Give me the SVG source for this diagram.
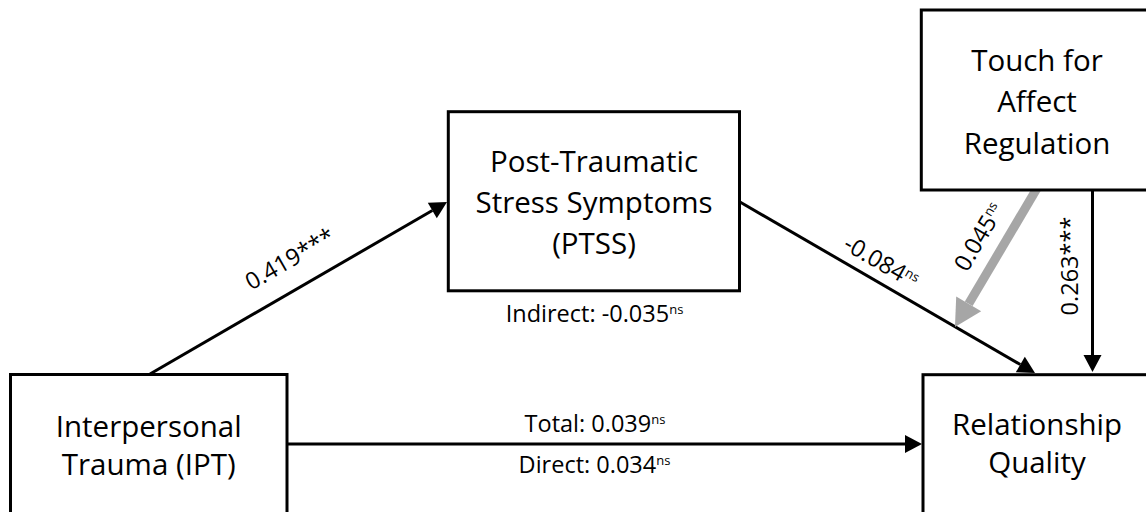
<svg xmlns="http://www.w3.org/2000/svg" width="1146" height="512" viewBox="0 0 1146 512">
<defs>
<style>
.box{fill:#ffffff;stroke:#000000;stroke-width:3}
.node{font-family:"Open Sans","Noto Sans",sans-serif;font-size:29.5px;fill:#000000;text-anchor:middle}
.lab{font-family:"Open Sans","Noto Sans",sans-serif;font-size:23.5px;fill:#000000;text-anchor:middle}
.sup{font-size:13px}
.ln{fill:none;stroke:#000000;stroke-width:3}
.gray{fill:none;stroke:#a6a6a6;stroke-width:9}
</style>
<marker id="ah" markerUnits="userSpaceOnUse" markerWidth="17" markerHeight="18" refX="0" refY="9" orient="auto" overflow="visible">
<path d="M0,0 L17,9 L0,18 z" fill="#000000"/>
</marker>
<marker id="ahg" markerUnits="userSpaceOnUse" markerWidth="27" markerHeight="29" refX="0" refY="14.5" orient="auto" overflow="visible">
<path d="M0,0 L27,14.5 L0,29 z" fill="#a6a6a6"/>
</marker>
</defs>
<rect x="0" y="0" width="1146" height="512" fill="#ffffff"/>
<g id="connectors">
<line class="ln" x1="150" y1="374" x2="432.3" y2="210.5" marker-end="url(#ah)"/>
<line class="ln" x1="740" y1="202" x2="1020.3" y2="364.5" marker-end="url(#ah)"/>
<line class="ln" x1="287" y1="444" x2="905" y2="444" marker-end="url(#ah)"/>
<line class="ln" x1="1092.5" y1="185" x2="1092.5" y2="355" marker-end="url(#ah)"/>
<line class="gray" x1="1041" y1="181.5" x2="968.7" y2="303.8" marker-end="url(#ahg)"/>
<text class="lab" transform="translate(294,266) rotate(-30)">0.419***</text>
<text class="lab" transform="translate(877,269) rotate(30)">-0.084<tspan class="sup" dy="-8">ns</tspan></text>
<text class="lab" transform="translate(986,241) rotate(-59.4)">0.045<tspan class="sup" dy="-8">ns</tspan></text>
<text class="lab" transform="translate(1077.5,266) rotate(-90)">0.263***</text>
<text class="lab" x="594.5" y="322">Indirect: -0.035<tspan class="sup" dy="-8">ns</tspan></text>
<text class="lab" x="595" y="432">Total: 0.039<tspan class="sup" dy="-8">ns</tspan></text>
<text class="lab" x="594.5" y="473">Direct: 0.034<tspan class="sup" dy="-8">ns</tspan></text>
</g>
<g id="node-ipt">
<rect class="box" x="10.5" y="374.5" width="276.5" height="150"/>
<text class="node" x="148.7" y="437">Interpersonal</text>
<text class="node" x="148.7" y="475">Trauma (IPT)</text>
</g>
<g id="node-ptss">
<rect class="box" x="448.3" y="111.7" width="291.2" height="179.1"/>
<text class="node" x="594" y="172">Post-Traumatic</text>
<text class="node" x="594" y="212.5">Stress Symptoms</text>
<text class="node" x="594" y="254">(PTSS)</text>
</g>
<g id="node-touch">
<rect class="box" x="921.3" y="10" width="240" height="180"/>
<text class="node" x="1037" y="70.5">Touch for</text>
<text class="node" x="1037" y="111.5">Affect</text>
<text class="node" x="1037" y="154">Regulation</text>
</g>
<g id="node-rq">
<rect class="box" x="923" y="374.7" width="240" height="150"/>
<text class="node" x="1037" y="435">Relationship</text>
<text class="node" x="1037" y="473">Quality</text>
</g>
</svg>
